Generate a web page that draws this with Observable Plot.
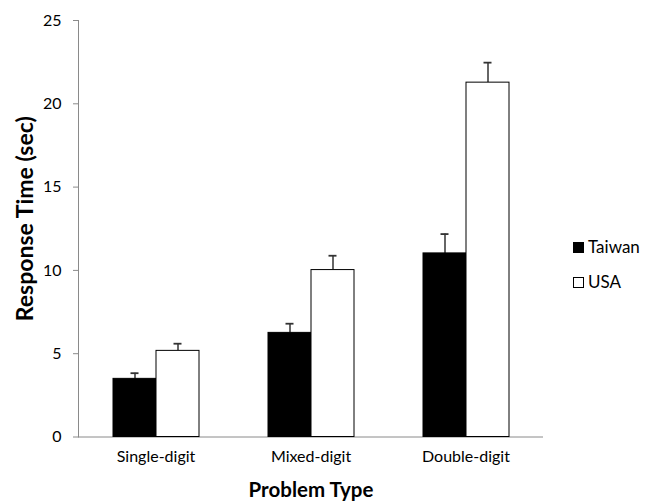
<!DOCTYPE html>
<html><head><meta charset="utf-8">
<script src="https://cdn.jsdelivr.net/npm/d3@7"></script>
<script src="https://cdn.jsdelivr.net/npm/@observablehq/plot@0.6"></script>
<style>
body{margin:0;background:#fff;}
#wrap{position:relative;width:652px;height:504px;font-family:Lato,sans-serif;}
#wrap svg{font-family:Lato,sans-serif;}
.legend{position:absolute;left:573px;font-size:17px;color:#000;line-height:20px;display:flex;align-items:center;}
.legend .sw{width:9px;height:9px;border:1px solid #000;margin-right:4px;box-sizing:content-box;}
</style></head><body><div id="wrap"></div>
<script>
const categories = ["Single-digit", "Mixed-digit", "Double-digit"];
const countries = ["Taiwan", "USA"];
const taiwanMeans = [3.49, 6.25, 11.02];
const usaMeans = [5.17, 10.02, 21.27];
const taiwanErrors = [0.34, 0.55, 1.16];
const usaErrors = [0.43, 0.86, 1.2];
const yTicks = [0, 5, 10, 15, 20, 25];
const countryFills = ["#000000", "#ffffff"];

const rows = [];
categories.forEach((c, i) => {
  rows.push({category: c, country: countries[0], mean: taiwanMeans[i], err: taiwanErrors[i]});
  rows.push({category: c, country: countries[1], mean: usaMeans[i], err: usaErrors[i]});
});

const axisGray = "#8a8a8a";
const chart = Plot.plot({
  width: 652,
  height: 504,
  marginLeft: 77,
  marginRight: 109,
  marginTop: 20,
  marginBottom: 67.5,
  style: {fontFamily: "Lato, sans-serif", background: "#fff"},
  fx: {domain: categories, padding: 0, label: null, axis: null},
  x: {domain: countries, paddingInner: 0, paddingOuter: 0.765, axis: null},
  y: {domain: [0, 25], label: null, axis: null},
  color: {domain: countries, range: countryFills},
  marks: [
    Plot.ruleY([0], {stroke: axisGray, strokeWidth: 1}),
    Plot.frame({anchor: "left", stroke: axisGray, facetAnchor: "left"}),
    Plot.ruleX(rows, {fx: "category", x: "country", y1: "mean", y2: d => d.mean + d.err, stroke: "#333", strokeWidth: 1.5}),
    Plot.tickY(rows, {fx: "category", x: "country", y: d => d.mean + d.err, insetLeft: 17.5, insetRight: 17.5, stroke: "#333", strokeWidth: 1.8}),
    Plot.barY(rows, {fx: "category", x: "country", y: "mean", fill: "country", stroke: "#000", strokeWidth: 1, inset: 0}),
    Plot.axisY({ticks: yTicks, tickSize: 5, tickPadding: 12, stroke: axisGray, fill: "#000", fontSize: 16, label: null}),
    Plot.axisFx({anchor: "bottom", tickSize: 0, tickPadding: 14, fontSize: 16, fill: "#000", label: null}),
    Plot.text(["Problem Type"], {facet: "super", frameAnchor: "bottom", lineAnchor: "middle", dy: 53, fontSize: 20.5, fontWeight: "bold", fill: "#000"}),
    Plot.text(["Response Time (sec)"], {frameAnchor: "left", facetAnchor: "left", textAnchor: "middle", lineAnchor: "middle", dx: -53, dy: -10, rotate: -90, fontSize: 23, fontWeight: "bold", fill: "#000"})
  ]
});
const wrap = document.getElementById("wrap");
wrap.appendChild(chart);

const legendTops = [237, 272];
countries.forEach((c, i) => {
  const item = document.createElement("div");
  item.className = "legend";
  item.style.top = legendTops[i] + "px";
  const sw = document.createElement("span");
  sw.className = "sw";
  sw.style.background = countryFills[i];
  const lab = document.createElement("span");
  lab.textContent = c;
  item.appendChild(sw);
  item.appendChild(lab);
  wrap.appendChild(item);
});
</script></body></html>
